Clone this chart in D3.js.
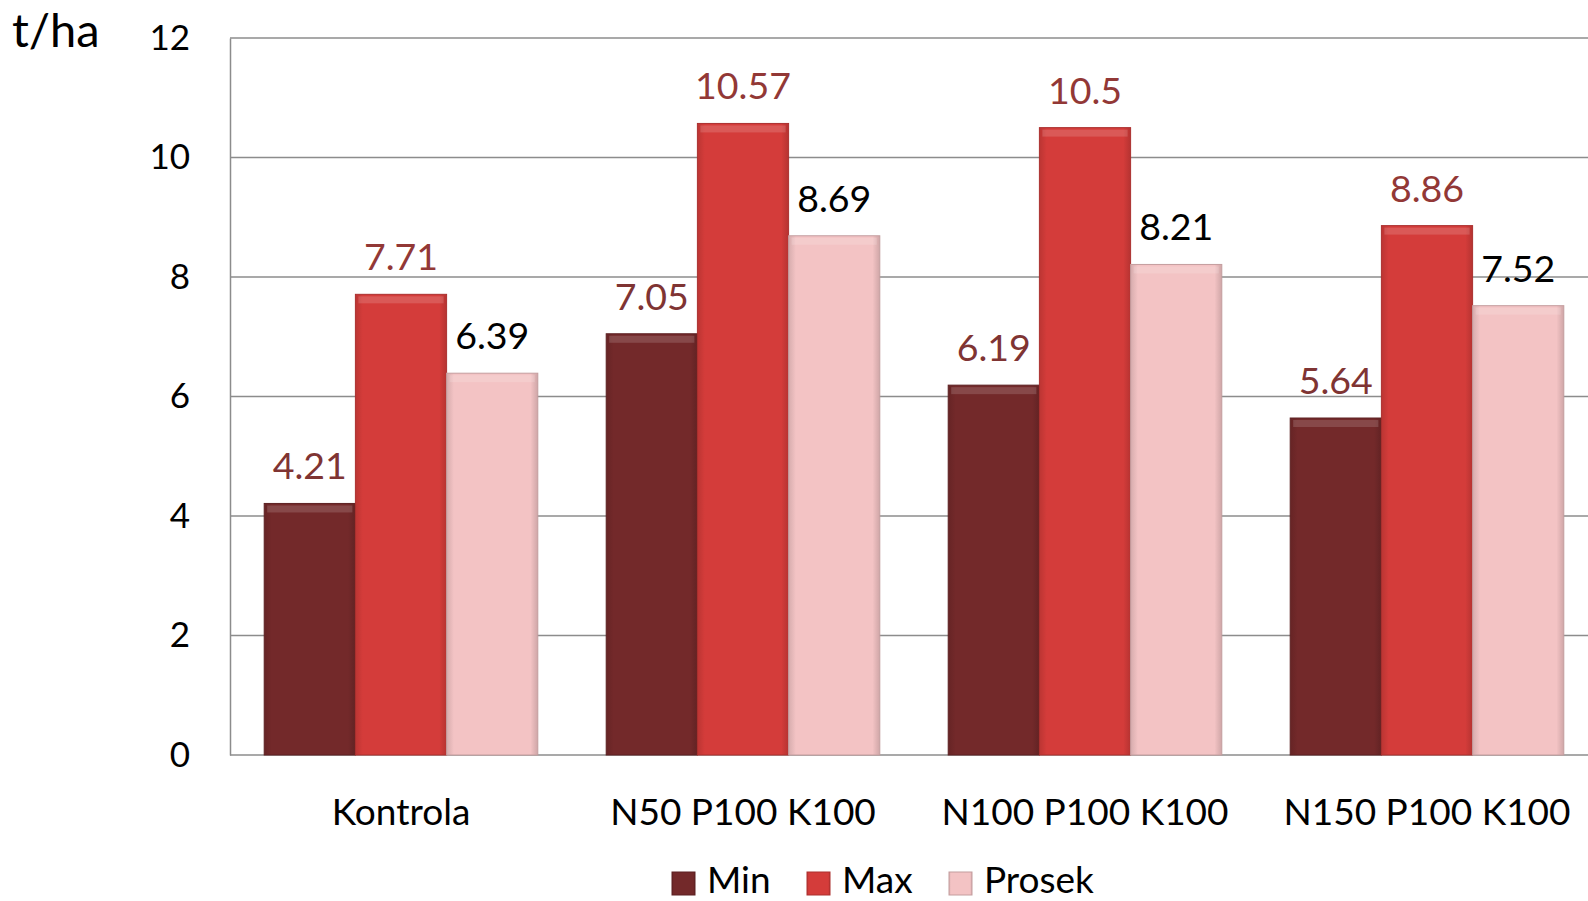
<!DOCTYPE html>
<html>
<head>
<meta charset="utf-8">
<script src="https://cdn.jsdelivr.net/npm/d3@7"></script>
<style>
  body { margin: 0; background: #fff; }
  text { font-family: Lato, "Open Sans", sans-serif; }
</style>
</head>
<body>
<div id="chart"></div>
<script>
// data
var categories = ["Kontrola", "N50 P100 K100", "N100 P100 K100", "N150 P100 K100"];
var seriesNames = ["Min", "Max", "Prosek"];
var minValues = [4.21, 7.05, 6.19, 5.64];
var maxValues = [7.71, 10.57, 10.5, 8.86];
var prosekValues = [6.39, 8.69, 8.21, 7.52];
var yTicks = [0, 2, 4, 6, 8, 10, 12];

var seriesColors = ["#73292a", "#d43c3a", "#f3c3c4"];
var labelColors = ["#7f3433", "#923836", "#000000"];

var svgWidth = 1588;
var svgHeight = 901;

// plot runs a little past the right edge, as in the original
var margin = { top: 38, right: -10, bottom: 146, left: 230 };
var width = svgWidth - margin.left - margin.right;
var height = svgHeight - margin.top - margin.bottom;

var svg = d3.select("#chart").append("svg")
    .attr("width", svgWidth)
    .attr("height", svgHeight);

var defs = svg.append("defs");
seriesColors.forEach(function(c, i) {
    var g = defs.append("linearGradient")
        .attr("id", "grad" + i)
        .attr("x1", "0").attr("x2", "1").attr("y1", "0").attr("y2", "0");
    g.append("stop").attr("offset", "0%").attr("stop-color", d3.color(c).darker(0.35));
    g.append("stop").attr("offset", "8%").attr("stop-color", c);
    g.append("stop").attr("offset", "92%").attr("stop-color", c);
    g.append("stop").attr("offset", "100%").attr("stop-color", d3.color(c).darker(0.45));
});

var chartGroup = svg.append("g")
    .attr("transform", `translate(${margin.left}, ${margin.top})`);

// scales
var x0 = d3.scaleBand()
    .domain(categories)
    .range([0, width])
    .paddingInner(0.2)
    .paddingOuter(0.1);

var x1 = d3.scaleBand()
    .domain(seriesNames)
    .range([0, x0.bandwidth()]);

var y = d3.scaleLinear()
    .domain([0, 12])
    .range([height, 0]);

// gridlines
chartGroup.selectAll(".grid")
    .data(yTicks)
    .enter()
    .append("line")
    .attr("x1", 0)
    .attr("x2", width)
    .attr("y1", d => y(d))
    .attr("y2", d => y(d))
    .attr("stroke", "#8c8c8c")
    .attr("stroke-width", 1.5);

// y axis
var leftAxis = d3.axisLeft(y).tickValues(yTicks).tickSize(0).tickPadding(40);
var yAxis = chartGroup.append("g").call(leftAxis);
yAxis.select(".domain").attr("stroke", "#8c8c8c").attr("stroke-width", 1.5);
yAxis.selectAll("text")
    .attr("font-family", "Lato, sans-serif")
    .attr("font-size", "35px")
    .attr("fill", "#000");

// x axis
var bottomAxis = d3.axisBottom(x0).tickSize(0).tickPadding(44);
var xAxis = chartGroup.append("g")
    .attr("transform", `translate(0, ${height})`)
    .call(bottomAxis);
xAxis.select(".domain").remove();
xAxis.selectAll("text")
    .attr("font-family", "Lato, sans-serif")
    .attr("font-size", "37px")
    .attr("fill", "#000");

// bars
var rows = categories.map(function(c, i) {
    return { cat: c, values: [minValues[i], maxValues[i], prosekValues[i]] };
});

var groups = chartGroup.selectAll(".group")
    .data(rows)
    .enter()
    .append("g")
    .attr("transform", d => `translate(${x0(d.cat)}, 0)`);

groups.selectAll("rect")
    .data(d => d.values.map((v, i) => ({ name: seriesNames[i], value: v, i: i })))
    .enter()
    .append("rect")
    .attr("x", d => x1(d.name))
    .attr("y", d => y(d.value))
    .attr("width", x1.bandwidth())
    .attr("height", d => height - y(d.value))
    .attr("fill", d => `url(#grad${d.i})`)
    .attr("stroke", d => d3.color(seriesColors[d.i]).darker(0.6))
    .attr("stroke-width", 1);

// soft top highlight
groups.selectAll(".hl")
    .data(d => d.values.map((v, i) => ({ name: seriesNames[i], value: v, i: i })))
    .enter()
    .append("rect")
    .attr("x", d => x1(d.name) + 3)
    .attr("y", d => y(d.value) + 2)
    .attr("width", x1.bandwidth() - 6)
    .attr("height", 7)
    .attr("fill", "#fff")
    .attr("opacity", 0.15);

// value labels
groups.selectAll(".val")
    .data(d => d.values.map((v, i) => ({ name: seriesNames[i], value: v, i: i })))
    .enter()
    .append("text")
    .attr("x", d => x1(d.name) + x1.bandwidth() / 2)
    .attr("y", d => y(d.value) - 24)
    .attr("text-anchor", "middle")
    .attr("font-size", "37.5px")
    .attr("fill", d => labelColors[d.i])
    .text(d => d.value);

// unit label
svg.append("text")
    .attr("x", 12)
    .attr("y", 47)
    .attr("font-size", "47px")
    .attr("fill", "#000")
    .text("t/ha");

// legend
var legendX = [672, 807, 949];
var legend = svg.append("g");
seriesNames.forEach(function(name, i) {
    legend.append("rect")
        .attr("x", legendX[i])
        .attr("y", 872)
        .attr("width", 23)
        .attr("height", 23)
        .attr("fill", `url(#grad${i})`)
        .attr("stroke", d3.color(seriesColors[i]).darker(0.6));
    legend.append("text")
        .attr("x", legendX[i] + 35)
        .attr("y", 893)
        .attr("font-size", "37px")
        .attr("fill", "#000")
        .text(name);
});
</script>
</body>
</html>
